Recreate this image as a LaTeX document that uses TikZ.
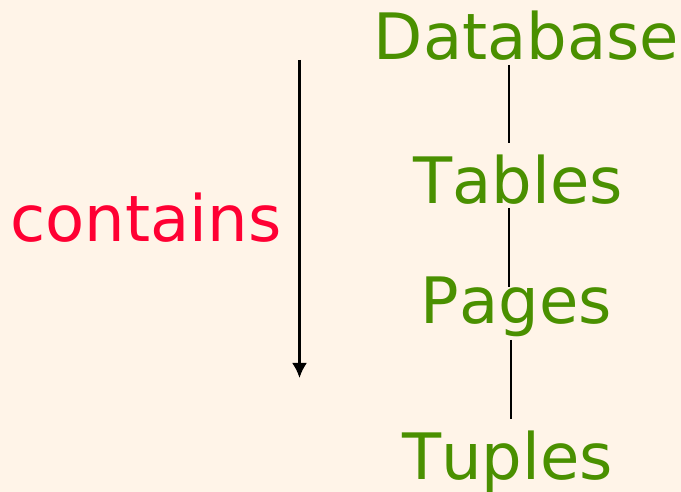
\documentclass[tikz,border=0pt]{standalone}
\usepackage{fontspec}
\setmainfont{DejaVu Sans}[Kerning=Off]
\usetikzlibrary{arrows.meta}
\definecolor{paper}{HTML}{FFF4E8}
\definecolor{leafgreen}{HTML}{4A9000}
\definecolor{alertred}{HTML}{FF0033}
\begin{document}
\begin{tikzpicture}[x=1pt,y=1pt, level/.style={text=leafgreen, anchor=base, inner sep=0pt, font=\fontsize{32}{38}\selectfont}]
			\fill[paper] (0,0) rectangle (340.5,246);
			\useasboundingbox (0,0) rectangle (340.5,246);
			\node[level] (db) at (263.25,216) {Database};
			\node[level] (tables) at (259,144) {Tables};
			\node[level] (pages) at (258.25,84) {Pages};
			\node[level] (tuples) at (253.75,6) {Tuples};
			\node[text=alertred, anchor=base, inner sep=0pt, font=\fontsize{32}{38}\selectfont] (contains) at (73,125) {contains};
			\coordinate (spine) at (254.6,0);
			\coordinate (spinelow) at (255.5,0);
			\coordinate (top) at (149.75,216);
			\coordinate (bottom) at (149.75,57);
			\draw[line width=1.2pt] ([yshift=-2.5pt]db.base -| spine) -- ([yshift=30.5pt]tables.base -| spine);
			\draw[line width=1.2pt] ([yshift=-2pt]tables.base -| spine) -- ([yshift=18.5pt]pages.base -| spine);
			\draw[line width=1.2pt] ([yshift=-8pt]pages.base -| spinelow) -- ([yshift=30.5pt]tuples.base -| spinelow);
			\draw[-{Latex[length=7.5pt,width=7.5pt]}, line width=1.2pt] (top) -- (bottom);
		\end{tikzpicture}
\end{document}
